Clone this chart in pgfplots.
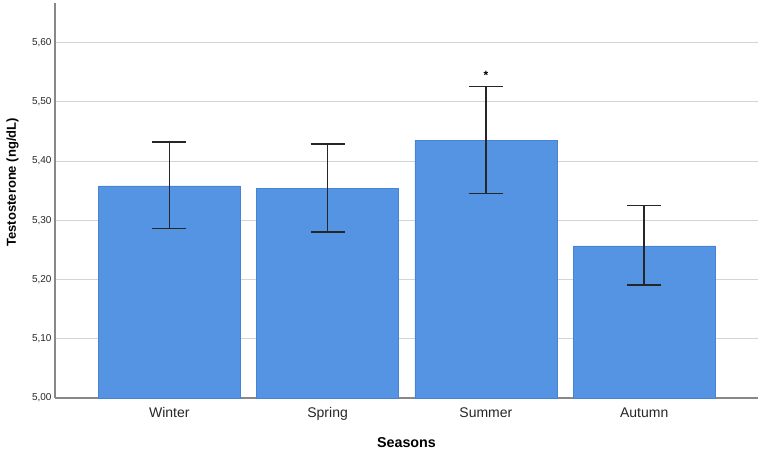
\documentclass[border=0pt]{standalone}
\usepackage{fontspec}
\setmainfont{Liberation Sans}
\usepackage{pgfplots}
\pgfplotsset{compat=1.18}
\definecolor{barblue}{RGB}{85,148,227}
\definecolor{baredge}{RGB}{72,132,212}
\definecolor{gridgray}{RGB}{212,212,212}
\definecolor{axisgray}{RGB}{136,136,136}
\begin{document}
\begin{tikzpicture}
\begin{axis}[
  scale only axis, width=703pt, height=395pt,
  xmin=-0.722, xmax=3.719, ymin=5.0, ymax=5.667,
  axis x line*=bottom, axis y line*=left,
  axis line style={axisgray, line width=1.3pt},
  ytick={5.0,5.1,5.2,5.3,5.4,5.5,5.6},
  ymajorgrids, grid style={gridgray, line width=1.2pt},
  xtick={0,1,2,3}, xticklabels={Winter,Spring,Summer,Autumn},
  major tick length=0pt,
  /pgf/number format/assume math mode=true,
  yticklabel style={/pgf/number format/.cd, fixed, fixed zerofill, precision=2, use comma, /tikz/.cd, font=\fontsize{10}{12}\selectfont, text=black!85},
  xticklabel style={font=\fontsize{14}{16}\selectfont, text=black!85, anchor=base, yshift=-19pt},
  xlabel={Seasons},
  xlabel style={font=\bfseries\fontsize{14.3}{16}\selectfont, at={(axis description cs:0.5,0)}, anchor=base, yshift=-49pt},
  ylabel={Testosterone (ng/dL)},
  ylabel style={font=\bfseries\fontsize{13}{15}\selectfont, at={(axis description cs:0,0.546)}, anchor=center, yshift=42.5pt},
]
\coordinate (o) at (rel axis cs:0,0);
\addplot[ybar, bar width=142pt, fill=barblue, draw=baredge, line width=0.6pt,
  error bars/.cd, y dir=both, y explicit, error mark=|,
  error bar style={line width=1.4pt, color=black!85},
  error mark options={line width=1.4pt, mark size=17pt, color=black!85}]
coordinates {
  (0,5.358) += (0,0.074) -= (0,0.072)
  (1,5.354) += (0,0.075) -= (0,0.074)
  (2,5.435) += (0,0.091) -= (0,0.090)
  (3,5.257) += (0,0.068) -= (0,0.066)
};
\node[font=\bfseries\fontsize{12}{14}\selectfont, anchor=base, inner sep=0pt] at (axis cs:2,5.537) {*};
\end{axis}
\pgfresetboundingbox
\path (o) ++(-55pt,-57pt) rectangle ++(765pt,455pt);
\end{tikzpicture}
\end{document}
